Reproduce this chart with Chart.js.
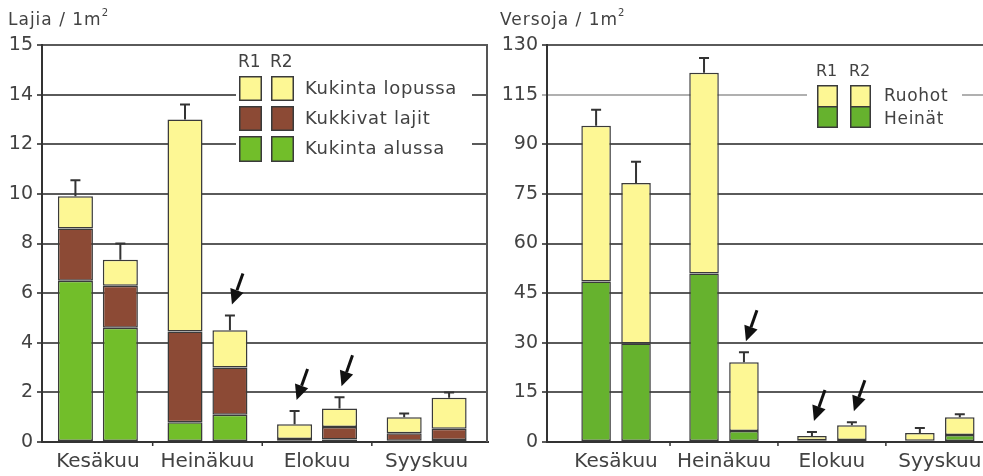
<!DOCTYPE html>
<html><head><meta charset="utf-8">
<script src="https://cdn.jsdelivr.net/npm/chart.js@4/dist/chart.umd.min.js"></script>
<style>
html,body{margin:0;padding:0;background:#fff;overflow:hidden;width:983px;height:476px;}
#cl{position:absolute;left:0;top:0;}
#cr{position:absolute;left:490px;top:0;}
</style></head><body>
<canvas id="cl" width="490" height="476"></canvas>
<canvas id="cr" width="493" height="476"></canvas>
<script>
// ---------- data ----------
const months = ['Kesäkuu', 'Heinäkuu', 'Elokuu', 'Syyskuu'];

// Left chart: Lajia / 1m²
const leftTickLabels = ['0', '2', '4', '6', '8', '10', '12', '14', '15'];
const r1Alussa   = [6.5, 0.8, 0.05, 0.05];
const r1Kukkivat = [2.1, 3.65, 0.07, 0.3];
const r1Lopussa  = [1.3, 8.55, 0.6, 0.65];
const r1LajiaErr = [0.65, 0.6, 0.53, 0.15];
const r2Alussa   = [4.6, 1.1, 0.1, 0.08];
const r2Kukkivat = [1.7, 1.9, 0.5, 0.45];
const r2Lopussa  = [1.05, 1.5, 0.75, 1.25];
const r2LajiaErr = [0.65, 0.6, 0.45, 0.22];
const leftArrowMonths = [1, 2, 2];
const leftArrowStacks = ['R2', 'R1', 'R2'];

// Right chart: Versoja / 1m²
const rightTickLabels = ['0', '15', '30', '45', '60', '75', '90', '115', '130'];
const r1Heinat = [48.5, 50.9, 0.5, 0.4];
const r1Ruohot = [47.1, 60.7, 1.3, 2.3];
const r1VersojaErr = [4.8, 4.5, 1.2, 1.5];
const r2Heinat = [29.8, 3.3, 0.6, 2.1];
const r2Ruohot = [48.5, 20.8, 4.5, 5.4];
const r2VersojaErr = [6.4, 3.0, 0.9, 0.9];
const rightArrowMonths = [1, 2, 2];
const rightArrowStacks = ['R2', 'R1', 'R2'];

// ---------- styles ----------
const FONT = 'DejaVu Sans';
const TXT = '#424242';
const YELLOW = '#fdf794';
const BROWN = '#8c4a35';
const GREEN_L = '#72be2a';
const GREEN_R = '#66b22e';
const EDGE = '#3a3a3a';
Chart.defaults.font.family = FONT;
Chart.defaults.color = TXT;

const pts = arr => arr.map((v, i) => ({x: i, y: v}));
function ds(label, data, color, stack, errors) {
  return {label, data: pts(data), backgroundColor: color, borderColor: EDGE, borderWidth: 1.5,
    borderSkipped: false, stack, errors};
}

// error bars, arrows, legend, titles
const decor = {
  id: 'decor',
  afterDatasetsDraw(chart) {
    const ctx = chart.ctx, c = chart.config.options.plugins.decor;
    const ys = chart.scales.y, xs = chart.scales.x;
    ctx.save();
    // boundary tick marks on x axis
    ctx.strokeStyle = '#333'; ctx.lineWidth = 1.5;
    [0.5, 1.5, 2.5].forEach(v => {
      const x = xs.getPixelForValue(v);
      ctx.beginPath(); ctx.moveTo(x, chart.chartArea.bottom); ctx.lineTo(x, chart.chartArea.bottom + 4); ctx.stroke();
    });
    // error bars
    chart.data.datasets.forEach((d, di) => {
      if (!d.errors) return;
      const meta = chart.getDatasetMeta(di);
      meta.data.forEach((bar, i) => {
        let total = 0;
        chart.data.datasets.forEach(o => { if (o.stack === d.stack) total += o.data[i].y; });
        const y0 = ys.getPixelForValue(total), y1 = ys.getPixelForValue(total + d.errors[i]);
        ctx.strokeStyle = '#333'; ctx.lineWidth = 2;
        ctx.beginPath(); ctx.moveTo(bar.x, y0); ctx.lineTo(bar.x, y1);
        ctx.moveTo(bar.x - 5, y1); ctx.lineTo(bar.x + 5, y1); ctx.stroke();
      });
    });
    // arrows
    c.arrowMonths.forEach((m, k) => {
      const st = c.arrowStacks[k];
      let di = -1, total = 0;
      chart.data.datasets.forEach((o, j) => { if (o.stack === st) { total += o.data[m].y; if (o.errors) di = j; } });
      const bar = chart.getDatasetMeta(di).data[m];
      const top = ys.getPixelForValue(total + chart.data.datasets[di].errors[m]);
      const tx = bar.x + 2, ty = top - 11;
      const sx = tx + 11, sy = ty - 31;
      const ang = Math.atan2(ty - sy, tx - sx);
      const hl = 15, hw = 7;
      const bx = tx - Math.cos(ang) * hl, by = ty - Math.sin(ang) * hl;
      ctx.strokeStyle = '#111'; ctx.fillStyle = '#111'; ctx.lineWidth = 3;
      ctx.beginPath(); ctx.moveTo(sx, sy); ctx.lineTo(bx, by); ctx.stroke();
      ctx.beginPath(); ctx.moveTo(tx, ty);
      ctx.lineTo(bx + Math.sin(ang) * hw, by - Math.cos(ang) * hw);
      ctx.lineTo(bx - Math.sin(ang) * hw, by + Math.cos(ang) * hw);
      ctx.closePath(); ctx.fill();
    });
    // right border
    if (c.rightBorder) {
      const a = chart.chartArea;
      ctx.strokeStyle = '#555'; ctx.lineWidth = 2;
      ctx.beginPath(); ctx.moveTo(a.right - 1, a.top); ctx.lineTo(a.right - 1, a.bottom); ctx.stroke();
    }
    // legend
    const L = c.legend;
    ctx.fillStyle = '#fff';
    ctx.fillRect(L.box[0], L.box[1], L.box[2], L.box[3]);
    ctx.fillStyle = TXT; ctx.textBaseline = 'middle'; ctx.textAlign = 'left';
    ctx.font = L.headFont + 'px ' + FONT;
    ctx.fillText('R1', L.cols[0] - 1, L.headY);
    ctx.fillText('R2', L.cols[1] - 1, L.headY);
    L.rows.forEach((r, i) => {
      L.cols.forEach(cx => {
        ctx.fillStyle = EDGE; ctx.fillRect(cx, r.y, L.sw, r.h);
        ctx.fillStyle = r.color; ctx.fillRect(cx + 1.5, r.y + 1.5, L.sw - 3, r.h - 3);
      });
    });
    ctx.fillStyle = TXT; ctx.font = L.font + 'px ' + FONT;
    ctx.letterSpacing = '0.7px';
    L.labels.forEach((t, i) => ctx.fillText(t, L.labelX, L.labelY[i]));
    // title
    ctx.letterSpacing = '1px';
    ctx.font = '17px ' + FONT; ctx.textBaseline = 'alphabetic';
    ctx.fillText(c.title, c.titleX, 25);
    const w = ctx.measureText(c.title).width;
    ctx.font = '10px ' + FONT;
    ctx.fillText('2', c.titleX + w, 16);
    ctx.restore();
  }
};

function makeChart(id, datasets, yMax, yStep, tickLabels, yWidth, xMin, xMax, decorOpts, padRight, gridColorFn) {
  return new Chart(document.getElementById(id), {
    type: 'bar',
    data: {datasets},
    plugins: [decor],
    options: {
      responsive: false, animation: false,
      layout: {padding: {top: 45, left: 0, right: padRight, bottom: 0}},
      datasets: {bar: {categoryPercentage: decorOpts.catPct, barPercentage: decorOpts.barPct, grouped: true}},
      plugins: {legend: {display: false}, tooltip: {enabled: false}, decor: decorOpts},
      scales: {
        x: {
          type: 'linear', min: xMin, max: xMax, stacked: true, offset: false,
          afterBuildTicks: s => { s.ticks = [0, 1, 2, 3].map(v => ({value: v})); },
          afterFit: s => { s.height = 34; },
          ticks: {autoSkip: false, maxRotation: 0, padding: 0, font: {size: 20}, color: TXT,
            callback: v => months[v]},
          grid: {display: false},
          border: {color: '#333', width: 2}
        },
        y: {
          min: 0, max: yMax, stacked: true,
          afterFit: s => { s.width = yWidth; },
          ticks: {stepSize: yStep, padding: 4, font: {size: 19}, color: TXT,
            callback: (v, i) => tickLabels[i]},
          grid: {color: gridColorFn, lineWidth: 2, tickLength: 5},
          border: {color: '#333', width: 2}
        }
      }
    }
  });
}

makeChart('cl', [
  ds('R1 Kukinta alussa', r1Alussa, GREEN_L, 'R1'),
  ds('R1 Kukkivat lajit', r1Kukkivat, BROWN, 'R1'),
  ds('R1 Kukinta lopussa', r1Lopussa, YELLOW, 'R1', r1LajiaErr),
  ds('R2 Kukinta alussa', r2Alussa, GREEN_L, 'R2'),
  ds('R2 Kukkivat lajit', r2Kukkivat, BROWN, 'R2'),
  ds('R2 Kukinta lopussa', r2Lopussa, YELLOW, 'R2', r2LajiaErr)
], 16, 2, leftTickLabels, 42, -0.51, 3.56, {
  catPct: 0.82, barPct: 0.78,
  arrowMonths: leftArrowMonths, arrowStacks: leftArrowStacks, rightBorder: true,
  title: 'Lajia / 1m', titleX: 8,
  legend: {box: [236, 50, 236, 140], cols: [239, 271], sw: 23, headY: 63, headFont: 17,
    rows: [{y: 76, h: 25, color: YELLOW}, {y: 106, h: 25, color: BROWN}, {y: 136, h: 26, color: GREEN_L}],
    labels: ['Kukinta lopussa', 'Kukkivat lajit', 'Kukinta alussa'], labelX: 305, labelY: [89, 119, 149], font: 18}
}, 2, () => '#5a5a5a');

makeChart('cr', [
  ds('R1 Heinät', r1Heinat, GREEN_R, 'R1'),
  ds('R1 Ruohot', r1Ruohot, YELLOW, 'R1', r1VersojaErr),
  ds('R2 Heinät', r2Heinat, GREEN_R, 'R2'),
  ds('R2 Ruohot', r2Ruohot, YELLOW, 'R2', r2VersojaErr)
], 120, 15, rightTickLabels, 57, -0.64, 3.4, {
  catPct: 0.74, barPct: 0.74,
  arrowMonths: rightArrowMonths, arrowStacks: rightArrowStacks, rightBorder: false,
  title: 'Versoja / 1m', titleX: 10,
  legend: {box: [317, 55, 155, 80], cols: [327, 360], sw: 21, headY: 72, headFont: 16,
    rows: [{y: 85, h: 23, color: YELLOW}, {y: 106, h: 22, color: GREEN_R}],
    labels: ['Ruohot', 'Heinät'], labelX: 394, labelY: [97, 120], font: 17}
}, 0, ctx => (ctx.tick && ctx.tick.value === 105) ? '#b0b0b0' : '#5a5a5a');
</script>
</body></html>
